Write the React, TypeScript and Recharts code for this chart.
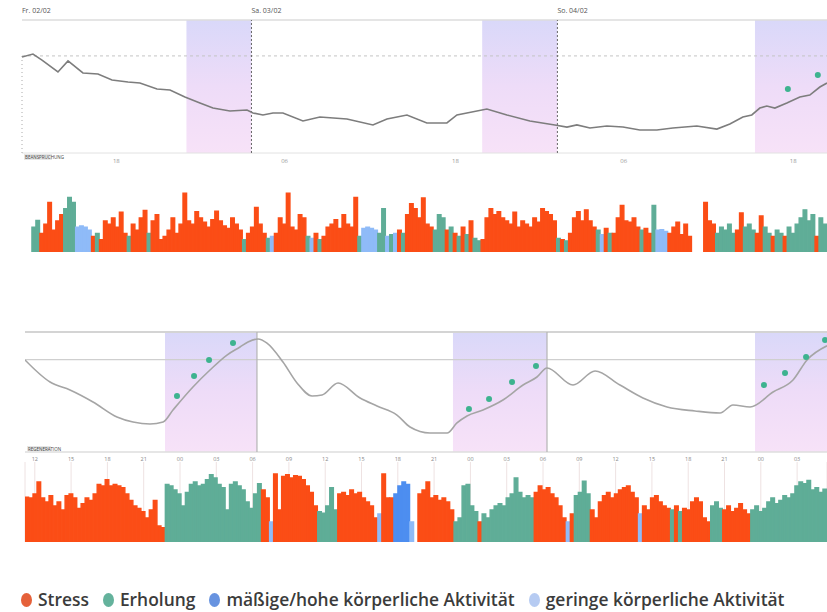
import React from "react";
import {
  ComposedChart,
  Line,
  XAxis,
  YAxis,
  ReferenceArea,
  ReferenceLine,
  BarChart,
  Bar,
  Cell,
  CartesianGrid,
} from "recharts";

// ---------- Panel 1 (top) ----------
const day1Labels = ["Fr. 02/02", "Sa. 03/02", "So. 04/02"];
const day1Hours = [6, 24, 48];
const top1TickHours = [13.4, 26.6, 40, 53.2, 66.5];
const top1TickLabels = ["18", "06", "18", "06", "18"];
const domain1: [number, number] = [6, 69.15];
const ref1Value = 73;

const line1Hours = [
  6.0, 6.86, 7.57, 8.82, 9.61, 10.78, 11.96, 13.06, 14.31, 15.25, 16.59, 17.61, 18.78, 19.96,
  20.98, 22.31, 23.65, 24.12, 24.9, 25.69, 26.47, 28.04, 29.37, 31.49, 33.53, 34.63, 36.2,
  37.76, 39.33, 40.12, 40.9, 42.47, 44.04, 45.84, 47.8, 48.75, 49.53, 50.55, 51.88, 53.14,
  54.47, 55.8, 57.06, 58.94, 60.51, 61.53, 62.55, 63.25, 63.88, 64.43, 65.06, 66.0, 67.02,
  67.8, 68.59, 69.15,
];
const line1Values = [
  72.2, 74.4, 69.9, 60.9, 69.2, 60.2, 59.4, 54.9, 53.4, 52.6, 48.1, 47.4, 42.1, 37.6, 33.8,
  31.6, 32.3, 30.1, 28.6, 30.1, 30.1, 24.1, 27.1, 25.6, 21.1, 25.6, 28.6, 22.6, 22.6, 28.6,
  30.1, 33.1, 28.6, 24.1, 21.1, 19.5, 21.1, 18.8, 20.3, 19.5, 17.3, 17.3, 18.8, 20.3, 18.0,
  21.8, 27.1, 28.6, 33.8, 35.3, 33.8, 37.6, 42.1, 43.6, 49.6, 52.6,
];
const dots1Hours = [66.08, 68.43];
const dots1Values = [48.1, 58.6];
const sleep1Start = [18.9, 42.1, 63.5];
const sleep1End = [24, 48, 69.15];

const bars1Start = 6.78;
const bars1Values = [
  40, 51, 30, 45, 80, 35, 50, 60, 70, 88,
  80, 40, 42, 40, 35, 25, 30, 20, 50, 45,
  55, 40, 64, 30, 25, 45, 35, 55, 67, 30,
  50, 60, 20, 25, 35, 55, 30, 45, 95, 50,
  45, 65, 55, 48, 40, 52, 66, 50, 42, 38,
  55, 45, 35, 20, 30, 40, 72, 45, 30, 22,
  25, 30, 55, 45, 95, 40, 35, 60, 55, 25,
  22, 30, 20, 25, 40, 45, 52, 38, 60, 45,
  40, 88, 25, 38, 40, 38, 35, 30, 70, 25,
  28, 30, 35, 30, 60, 78, 70, 55, 87, 45,
  40, 35, 60, 55, 35, 40, 30, 25, 40, 28,
  50, 22, 18, 20, 55, 70, 60, 65, 55, 50,
  45, 64, 40, 50, 45, 40, 55, 48, 70, 65,
  60, 50, 22, 20, 18, 30, 55, 65, 50, 68,
  50, 40, 35, 28, 38, 30, 30, 55, 75, 50,
  48, 55, 40, 35, 38, 30, 75, 35, 36, 33,
  30, 40, 48, 28, 45, 25, 0, 0, 0, 80,
  50, 45, 30, 40, 35, 45, 30, 35, 63, 40,
  45, 35, 30, 58, 40, 30, 25, 35, 30, 25,
  40, 30, 45, 55, 68, 50, 60, 25, 55, 45,
];
const bars1Kinds =
  "EESSSSSSEE" + "ELLLLSESSS" + "SSSSESSSSE" + "SSSSSSSSSS" + "SSSSSSSSSS" +
  "SSSESSSSSE" + "LSSSSSSSSE" + "LSESSSSSSS" + "SSELLLLEEL" + "ELSESSSSSS" +
  "SEEESESESE" + "SEESSSSSSS" + "SSSSSSSSSS" + "SSESESSSSS" + "SSELSESSSS" +
  "SSSESSELLL" + "SSSSSSSSSS" + "SSEEEEESSE" + "EESSEESEES" + "EEEEEEESEE";

// ---------- Panel 2 (bottom) ----------
const domain2: [number, number] = [11.19, 77.47];
const tick2Hours = [12, 15, 18, 21, 24, 27, 30, 33, 36, 39, 42, 45, 48, 51, 54, 57, 60, 63, 66, 69, 72, 75];
const ref2Value = 77;
const line2Hours = [
  11.19, 13.26, 14.91, 16.81, 18.79, 20.12, 21.52, 22.6, 23.42, 25.07, 26.48, 27.88, 28.96,
  29.62, 30.45, 31.19, 32.51, 33.67, 34.91, 35.74, 37.06, 38.88, 40.28, 41.93, 43.01, 44.66,
  46.07, 46.89, 47.72, 49.04, 50.69, 52.35, 53.5, 54.33, 56.48, 58.3, 60.36, 62.26, 64.25,
  66.56, 68.63, 69.7, 71.11, 73.01, 74.66, 75.82, 77.47,
];
const line2Values = [
  76.7, 58.3, 51.7, 41.7, 29.2, 25.0, 23.3, 25.0, 35.0, 54.2, 68.3, 80.8, 87.5, 91.7, 94.2,
  90.8, 75.0, 57.5, 46.7, 47.5, 57.5, 45.0, 38.3, 30.8, 20.8, 15.8, 15.8, 24.2, 30.0, 35.0,
  43.3, 55.8, 62.5, 70.0, 55.8, 67.5, 55.8, 45.0, 37.5, 34.2, 32.5, 39.2, 37.5, 50.0, 60.0,
  76.7, 88.5,
];
const dots2Hours = [23.75, 25.16, 26.4, 28.38, 47.88, 49.54, 51.44, 53.42, 72.26, 74.0, 75.74, 77.31];
const dots2Values = [46.7, 63.3, 76.7, 90.8, 35.8, 44.2, 58.3, 71.7, 55.8, 65.8, 79.2, 93.3];
const sleep2Start = [22.76, 46.56, 71.52];
const sleep2End = [30.36, 54.33, 77.47];

const bars2Values = [
  56, 55, 60, 75, 55, 50, 58, 45, 50, 40,
  58, 60, 55, 42, 48, 55, 52, 60, 72, 70,
  78, 70, 72, 70, 68, 60, 52, 45, 42, 38,
  30, 40, 52, 20, 18, 72, 70, 65, 60, 45,
  62, 72, 75, 70, 72, 78, 84, 80, 72, 68,
  40, 72, 75, 70, 65, 50, 42, 60, 73, 65,
  55, 25, 85, 40, 82, 84, 80, 83, 82, 78,
  70, 62, 45, 38, 36, 45, 68, 40, 60, 62,
  58, 65, 60, 62, 55, 50, 45, 30, 35, 85,
  55, 55, 60, 70, 75, 72, 25, 0, 60, 65,
  75, 55, 58, 52, 55, 50, 40, 25, 30, 70,
  72, 45, 38, 25, 35, 30, 40, 45, 48, 45,
  55, 60, 80, 62, 55, 58, 55, 62, 70, 65,
  68, 60, 55, 45, 30, 25, 35, 58, 62, 76,
  60, 40, 30, 50, 58, 62, 55, 60, 65, 68,
  70, 62, 55, 35, 45, 40, 55, 58, 50, 45,
  42, 40, 45, 38, 42, 40, 50, 55, 50, 30,
  25, 45, 50, 42, 40, 45, 38, 42, 48, 40,
  35, 40, 45, 38, 42, 50, 55, 48, 52, 58,
  55, 60, 70, 75, 73, 77, 65, 68, 62, 66,
];
const bars2Kinds =
  "SSSSSSSSSS" + "SSSSSSSSSS" + "SSSSSSSSSS" + "SSSSSEEEEE" + "EEEEEEEEEE" +
  "EEEEEEEEES" + "SLSSSSSSSS" + "SSSEEEEESS" + "SSSSSSSSLS" + "SSMMMMLLSS" +
  "SSSSSSSEEE" + "EEESEEEEEE" + "EEEEEEESSS" + "SSSSSLSEEE" + "ESSSSSSSSS" +
  "SSSLSSSSSS" + "SESESSSSSS" + "SEEESSSSSS" + "SEEEEEEEEE" + "EEEEEEEEEE";

// ---------- Legend ----------
const legendLabels = ["Stress", "Erholung", "mäßige/hohe körperliche Aktivität", "geringe körperliche Aktivität"];
const legendColors = ["#e5613a", "#64b29c", "#6793e0", "#b6cbf2"];

const barColors: Record<string, string> = {
  S: "#fb4d16",
  E: "#5fad97",
  M: "#4d8ef0",
  L: "#8fbbf8",
};

const line1Data = line1Hours.map((h, i) => ({ h, v: line1Values[i] }));
const dots1Data = dots1Hours.map((h, i) => ({ h, v: dots1Values[i] }));
const line2Data = line2Hours.map((h, i) => ({ h, v: line2Values[i] }));
const dots2Data = dots2Hours.map((h, i) => ({ h, v: dots2Values[i] }));

const step1 = (domain1[1] - bars1Start) / bars1Values.length;
const bars1Data = bars1Values.map((v, i) => ({ h: bars1Start + (i + 0.5) * step1, v, k: bars1Kinds[i] }));
const step2 = (domain2[1] - domain2[0]) / bars2Values.length;
const bars2Data = bars2Values.map((v, i) => ({ h: domain2[0] + (i + 0.5) * step2, v, k: bars2Kinds[i] }));

const FONT = '"Open Sans", "DejaVu Sans", sans-serif';

const DayLabel = (props: any) => {
  const vb = props.viewBox || {};
  return (
    <text x={vb.x} y={(vb.y || 0) - 7} fontSize={7} fill="#555" fontFamily={FONT}>
      {props.text}
    </text>
  );
};

const CornerTag = (props: any) => {
  const vb = props.viewBox || {};
  return (
    <g>
      <rect x={(vb.x || 0) + 2} y={(vb.y || 0) + (props.dy || 0)} width={props.w} height={6} fill="#e6e6e6" />
      <text x={(vb.x || 0) + 3} y={(vb.y || 0) + (props.dy || 0) + 5} fontSize={4.5} fill="#444" fontFamily={FONT}>
        {props.text}
      </text>
    </g>
  );
};

const GradDefs = ({ id }: { id: string }) => (
  <defs>
    <linearGradient id={id} x1="0" y1="0" x2="0" y2="1">
      <stop offset="0" stopColor="#d9d8f9" />
      <stop offset="0.5" stopColor="#eedcf8" />
      <stop offset="1" stopColor="#f7e2f8" />
    </linearGradient>
  </defs>
);

function TopLine() {
  return (
    <ComposedChart width={827} height={172} data={line1Data} margin={{ top: 20, right: 0, left: 22, bottom: 0 }}>
      <GradDefs id="sleepGrad1" />
      <XAxis
        type="number"
        dataKey="h"
        domain={domain1}
        allowDataOverflow
        ticks={top1TickHours}
        interval={0}
        tickFormatter={(_v: any, i: number) => top1TickLabels[i]}
        axisLine={false}
        tickLine={false}
        tickSize={4}
        height={19}
        tick={{ fontSize: 6, fill: "#9a9a9a", fontFamily: FONT }}
      />
      <YAxis hide domain={[0, 100]} />
      {sleep1Start.map((s, i) => (
        <ReferenceArea key={"a" + i} x1={s} x2={sleep1End[i]} fill="url(#sleepGrad1)" fillOpacity={1} stroke="none" />
      ))}
      <ReferenceLine y={100} stroke="#dcdcdc" strokeWidth={1.5} />
      <ReferenceLine y={0} stroke="#e2e2e2" strokeWidth={1} label={<CornerTag text="BEANSPRUCHUNG" w={28} dy={1} />} />
      <ReferenceLine y={ref1Value} stroke="#c4c4c4" strokeDasharray="3 3" />
      <ReferenceLine segment={[{ x: domain1[0], y: 0 }, { x: domain1[0], y: ref1Value }]} stroke="#aaa" strokeDasharray="1 3" />
      {day1Hours.map((h, i) => (
        <ReferenceLine
          key={"d" + i}
          x={h}
          stroke={i === 0 ? "none" : "#666"}
          strokeDasharray="2 2"
          label={<DayLabel text={day1Labels[i]} />}
        />
      ))}
      <Line type="linear" dataKey="v" stroke="#7d7d7d" strokeWidth={1.6} dot={false} activeDot={false} isAnimationActive={false} />
      <Line
        data={dots1Data}
        dataKey="v"
        stroke="none"
        dot={{ r: 3, fill: "#3db38f", stroke: "none" }}
        activeDot={false}
        isAnimationActive={false}
      />
    </ComposedChart>
  );
}

function TopBars() {
  return (
    <BarChart width={827} height={62} data={bars1Data} margin={{ top: 0, right: 0, left: 22, bottom: 0 }} barCategoryGap={0}>
      <XAxis type="number" dataKey="h" domain={domain1} hide allowDataOverflow />
      <YAxis hide domain={[0, 100]} />
      <Bar dataKey="v" barSize={4.3} isAnimationActive={false}>
        {bars1Data.map((d, i) => (
          <Cell key={i} fill={barColors[d.k]} stroke={barColors[d.k]} strokeWidth={1.4} />
        ))}
      </Bar>
    </BarChart>
  );
}

function BottomLine() {
  return (
    <ComposedChart width={827} height={160} data={line2Data} margin={{ top: 20, right: 0, left: 25, bottom: 0 }}>
      <GradDefs id="sleepGrad2" />
      <XAxis
        type="number"
        dataKey="h"
        domain={domain2}
        allowDataOverflow
        ticks={tick2Hours}
        interval={0}
        tickFormatter={(v: number) => String(v % 24).padStart(2, "0")}
        axisLine={false}
        tickLine={false}
        tickSize={3}
        height={20}
        tick={{ fontSize: 5.5, fill: "#888", fontFamily: FONT }}
      />
      <YAxis hide domain={[0, 100]} />
      {sleep2Start.map((s, i) => (
        <ReferenceArea key={"a" + i} x1={s} x2={sleep2End[i]} fill="url(#sleepGrad2)" fillOpacity={1} stroke="none" />
      ))}
      <ReferenceLine y={100} stroke="#d4d4d4" strokeWidth={2} />
      <ReferenceLine y={ref2Value} stroke="#cfcfcf" strokeWidth={1.2} />
      <ReferenceLine y={0} stroke="#dedede" strokeWidth={1.5} label={<CornerTag text="REGENERATION" w={24} dy={-6} />} />
      {sleep2End.slice(0, 2).map((e, i) => (
        <ReferenceLine key={"e" + i} x={e} stroke="#b4b4b4" strokeWidth={1.2} />
      ))}
      <Line type="monotone" dataKey="v" stroke="#a5a5a5" strokeWidth={1.6} dot={false} activeDot={false} isAnimationActive={false} />
      <Line
        data={dots2Data}
        dataKey="v"
        stroke="none"
        dot={{ r: 3, fill: "#3db38f", stroke: "none" }}
        activeDot={false}
        isAnimationActive={false}
      />
    </ComposedChart>
  );
}

function BottomBars() {
  return (
    <BarChart width={827} height={80} data={bars2Data} margin={{ top: 0, right: 0, left: 25, bottom: 0 }} barCategoryGap={0}>
      <CartesianGrid horizontal={false} stroke="#eee2e2" />
      <XAxis type="number" dataKey="h" domain={domain2} ticks={tick2Hours} interval={0} hide allowDataOverflow />
      <YAxis hide domain={[0, 100]} />
      <Bar dataKey="v" barSize={4.3} isAnimationActive={false}>
        {bars2Data.map((d, i) => (
          <Cell key={i} fill={barColors[d.k]} stroke={barColors[d.k]} strokeWidth={1.4} />
        ))}
      </Bar>
    </BarChart>
  );
}

function Legend() {
  return (
    <div
      style={{
        position: "absolute",
        left: 21,
        top: 588,
        display: "flex",
        alignItems: "center",
        fontFamily: FONT,
        fontSize: 17.4,
        fontWeight: 600,
        color: "#3b3b3b",
        whiteSpace: "nowrap",
        lineHeight: "23px",
      }}
    >
      {legendLabels.map((l, i) => (
        <span key={l} style={{ display: "flex", alignItems: "center", marginRight: 14 }}>
          <span
            style={{
              display: "inline-block",
              width: 11,
              height: 14,
              borderRadius: "50%",
              background: legendColors[i],
              marginRight: 6,
            }}
          />
          {l}
        </span>
      ))}
    </div>
  );
}

export default function App() {
  return (
    <div style={{ position: "absolute", left: 0, top: 0, width: 827, height: 612, background: "#fff", overflow: "hidden", fontFamily: FONT }}>
      <div style={{ position: "absolute", left: 0, top: 0 }}>
        <TopLine />
      </div>
      <div style={{ position: "absolute", left: 0, top: 190 }}>
        <TopBars />
      </div>
      <div style={{ position: "absolute", left: 0, top: 312 }}>
        <BottomLine />
      </div>
      <div style={{ position: "absolute", left: 0, top: 462 }}>
        <BottomBars />
      </div>
      <Legend />
    </div>
  );
}
